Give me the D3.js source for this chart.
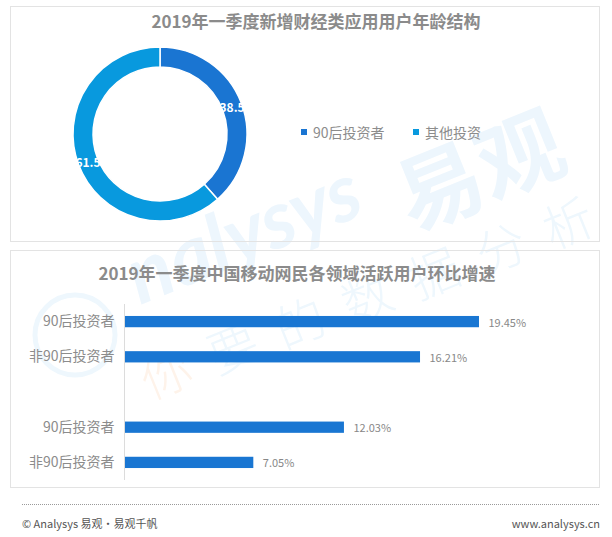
<!DOCTYPE html>
<html><head><meta charset="utf-8">
<script src="https://cdn.jsdelivr.net/npm/d3@7/dist/d3.min.js"></script>
<style>
html,body{margin:0;padding:0;background:#fff;}
text{font-family:"Noto Sans CJK SC","Noto Sans",sans-serif;}
</style></head>
<body>
<script>
// ---- data ----
const pieTitle = "2019年一季度新增财经类应用用户年龄结构";
const pieCategories = ["90后投资者", "其他投资"];
const pieValues = [38.5, 61.5];
const barTitle = "2019年一季度中国移动网民各领域活跃用户环比增速";
const barCategories = ["90后投资者", "非90后投资者", "", "90后投资者", "非90后投资者"];
const barValues = [19.45, 16.21, null, 12.03, 7.05];
const footerLeft = "© Analysys 易观‧易观千帆";
const footerRight = "www.analysys.cn";

const W = 612, H = 537;
const svg = d3.select("body").append("svg").attr("width", W).attr("height", H);

// ---- watermark ----
const wm = svg.append("g").attr("pointer-events", "none");
wm.append("text").attr("transform", "translate(140,305) rotate(-22)")
  .attr("font-size", 80).attr("font-weight", "bold").attr("font-style", "italic")
  .attr("fill", "#edf6fd").style("font-family", "Lato, 'DejaVu Sans', sans-serif")
  .text("nalysys");
wm.append("circle").attr("cx", 75).attr("cy", 335).attr("r", 40)
  .attr("fill", "none").attr("stroke", "#eef7fd").attr("stroke-width", 5);
wm.append("text").attr("transform", "translate(412,232) rotate(-22)")
  .attr("font-size", 86).attr("font-weight", "bold").attr("fill", "#edf6fd")
  .text("易观");
const slogan = ["你", "要", "的", "数", "据", "分", "析"];
slogan.forEach((c, i) => {
  const x = 150 + i * 67, y = 400 - i * 25;
  wm.append("text").attr("transform", `translate(${x},${y}) rotate(-22)`)
    .attr("font-size", 50).attr("font-weight", 300)
    .attr("fill", i === 0 ? "#fef3ea" : "#eef7fd").text(c);
});

// ---- panels ----
svg.append("rect").attr("x", 10.5).attr("y", 6.5).attr("width", 589).attr("height", 235)
  .attr("fill", "none").attr("stroke", "#e3e3e3");
svg.append("rect").attr("x", 10.5).attr("y", 250.5).attr("width", 589).attr("height", 237)
  .attr("fill", "none").attr("stroke", "#e3e3e3");

svg.append("text").attr("x", 316).attr("y", 20).attr("text-anchor", "middle")
  .attr("dominant-baseline", "central").attr("font-size", 17).attr("font-weight", "bold")
  .attr("fill", "#8b8b8b").text(pieTitle);
svg.append("text").attr("x", 297).attr("y", 272).attr("text-anchor", "middle")
  .attr("dominant-baseline", "central").attr("font-size", 17).attr("font-weight", "bold")
  .attr("fill", "#8b8b8b").text(barTitle);

// ---- donut ----
const pieColor = d3.scaleOrdinal().domain(pieCategories).range(["#1a75d2", "#0899de"]);
const pie = d3.pie().sort(null).value(d => d.v);
const arcs = pie(pieCategories.map((c, i) => ({c, v: pieValues[i]})));
const arc = d3.arc().innerRadius(67).outerRadius(87);
const dg = svg.append("g").attr("transform", "translate(160,134)");
dg.selectAll("path").data(arcs).join("path")
  .attr("d", arc).attr("fill", d => pieColor(d.data.c))
  .attr("stroke", "#fff").attr("stroke-width", 1.5);
dg.selectAll("text").data(arcs).join("text")
  .attr("transform", d => `translate(${arc.centroid(d)})`)
  .attr("text-anchor", "middle").attr("dominant-baseline", "central")
  .attr("font-size", 12).attr("font-weight", "bold").attr("fill", "#fff")
  .text(d => d.data.v.toFixed(1));

// legend
const lg = svg.append("g");
const legX = [301, 413];
pieCategories.forEach((c, i) => {
  lg.append("rect").attr("x", legX[i]).attr("y", 129).attr("width", 6).attr("height", 6)
    .attr("fill", pieColor(c));
  lg.append("text").attr("x", legX[i] + 12).attr("y", 132).attr("dominant-baseline", "central")
    .attr("font-size", 14).attr("fill", "#8c8c8c").text(c);
});

// ---- bars ----
const x = d3.scaleLinear().domain([0, 20]).range([125, 489]);
const y = d3.scaleBand().domain(d3.range(barCategories.length)).range([304, 480])
  .paddingInner(0.68).paddingOuter(0.34);
const bg = svg.append("g");
const yAxis = d3.axisLeft(y).tickSize(0).tickPadding(10).tickFormat(i => barCategories[i]);
const ya = bg.append("g").attr("transform", "translate(124.5,0)").call(yAxis);
ya.select(".domain").attr("stroke", "#dcdcdc").attr("d", "M0,304V480");
ya.selectAll("text").attr("font-size", 14).attr("fill", "#8c8c8c")
  .style("font-family", "'Noto Sans CJK SC', sans-serif");
const bd = barValues.map((v, i) => ({i, v})).filter(d => d.v != null);
bg.selectAll("rect.bar").data(bd).join("rect").attr("class", "bar")
  .attr("x", x(0)).attr("y", d => y(d.i)).attr("width", d => x(d.v) - x(0))
  .attr("height", y.bandwidth()).attr("fill", "#1976d2");
bg.selectAll("text.val").data(bd).join("text").attr("class", "val")
  .attr("x", d => x(d.v) + 9.5).attr("y", d => y(d.i) + y.bandwidth() / 2)
  .attr("dominant-baseline", "central").attr("font-size", 11).attr("fill", "#888")
  .text(d => d.v.toFixed(2) + "%");

// ---- footer ----
svg.append("line").attr("x1", 22).attr("x2", 600).attr("y1", 504.5).attr("y2", 504.5)
  .attr("stroke", "#9a9a9a").attr("stroke-dasharray", "1,1");
svg.append("text").attr("x", 22).attr("y", 523).attr("dominant-baseline", "central")
  .attr("font-size", 11).attr("fill", "#555").text(footerLeft);
svg.append("text").attr("x", 600).attr("y", 523).attr("text-anchor", "end")
  .attr("dominant-baseline", "central").attr("font-size", 11).attr("fill", "#555").text(footerRight);
</script>
</body></html>
